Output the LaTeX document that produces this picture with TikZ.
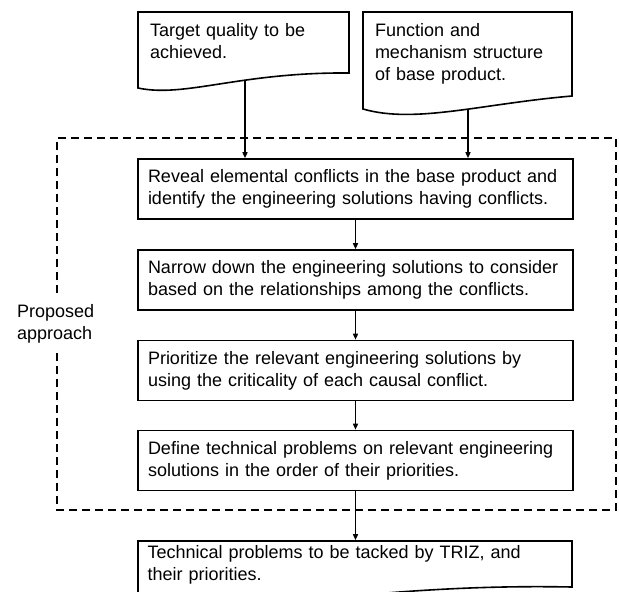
\documentclass[tikz,border=0pt]{standalone}
\usepackage{fontspec}
\setmainfont{Liberation Sans}
\usetikzlibrary{arrows.meta}
\begin{document}
\begin{tikzpicture}[x=1pt,y=-1pt,
  font=\fontsize{18}{22}\selectfont,
  procbox/.style={draw, line width=1.6pt, minimum width=435pt, minimum height=60pt,
    text width=415pt, align=left, inner xsep=10pt, inner ysep=0pt},
  docbox/.style={text width=#1, align=left, inner xsep=12pt, inner ysep=0pt},
  docline/.style={line width=1.6pt, line join=miter},
  flow/.style={line width=1.4pt, -{Triangle[length=6pt,width=5pt]}},
  region/.style={line width=1.6pt, dash pattern=on 8pt off 5pt}]
\useasboundingbox (0,0) rectangle (619,592);

% input documents
\node[docbox=187pt, minimum height=58pt, minimum width=211pt] (d1) at (243.5,41) {Target quality to be\\achieved.};
\node[docbox=185pt, minimum height=84pt, minimum width=209pt] (d2) at (467.5,54) {Function and\\mechanism structure\\of base product.};
\draw[docline] (138,88) -- (138,12) -- (349,12) -- (349,73)
  .. controls (240,72) and (185,98) .. (138,88) -- cycle;
\draw[docline] (363,109) -- (363,12) -- (572,12) -- (572,96)
  .. controls (480,104) and (415,124) .. (363,109) -- cycle;
\coordinate (d1out) at (245,81);
\coordinate (d2out) at (468,110);

% process steps
\node[procbox] (b1) at (355.5,189) {Reveal elemental conflicts in the base product and\\identify the engineering solutions having conflicts.};
\node[procbox] (b2) at (355.5,280) {Narrow down the engineering solutions to consider\\based on the relationships among the conflicts.};
\node[procbox] (b3) at (355.5,370.5) {Prioritize the relevant engineering solutions by\\using the criticality of each causal conflict.};
\node[procbox] (b4) at (355.5,460.5) {Define technical problems on relevant engineering\\solutions in the order of their priorities.};

% output document
\node[procbox, draw=none, minimum height=48pt, minimum width=434pt] (b5) at (355,565) {Technical problems to be tacked by TRIZ, and\\their priorities.};
\begin{scope}
  \clip (0,0) rectangle (619,592);
  \draw[docline] (138,620) -- (138,541) -- (572,541) -- (572,587)
    .. controls (460,585) and (360,592) .. (138,620);
\end{scope}

% region of the proposed approach
\node[anchor=north west, inner sep=0pt, align=left] (pa) at (17,304) {Proposed\\approach};
\draw[region] (57,293) -- (57,138) -- (616,138) -- (616,510) -- (57,510) -- (57,350);

% connectors
\draw[flow] (d1out) -- (d1out |- b1.north);
\draw[flow] (d2out) -- (d2out |- b1.north);
\draw[flow] (b1) -- (b2);
\draw[flow] (b2) -- (b3);
\draw[flow] (b3) -- (b4);
\draw[flow] (b4.south) -- (b4.south |- b5.north);
\end{tikzpicture}
\end{document}
